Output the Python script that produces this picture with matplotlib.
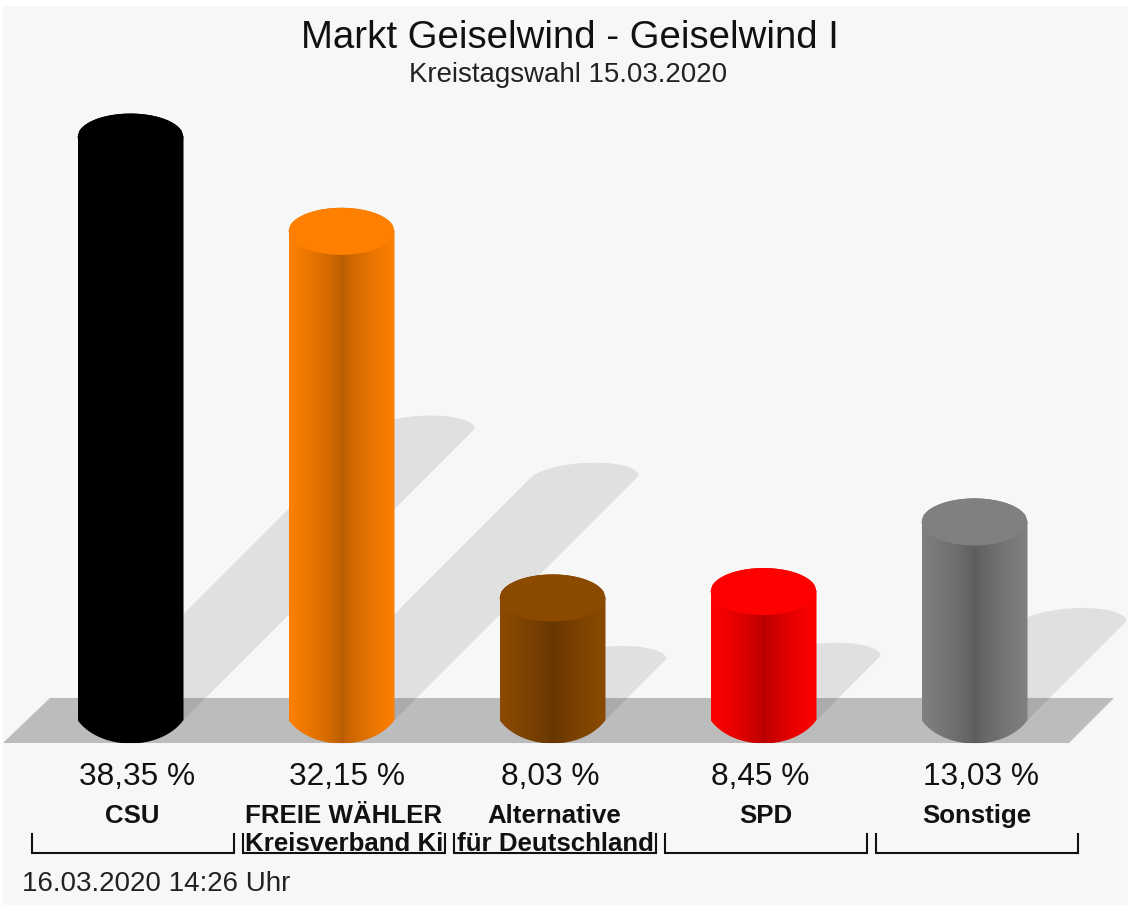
#!/usr/bin/env python
# -*- coding: utf-8 -*-
import matplotlib
matplotlib.use('Agg')
import matplotlib.pyplot as plt
import numpy as np
from matplotlib.patches import PathPatch, Polygon, Rectangle
from matplotlib.path import Path

plt.rcParams['font.family'] = ['Liberation Sans', 'DejaVu Sans']

TITLE = 'Markt Geiselwind - Geiselwind I'
SUBTITLE = 'Kreistagswahl 15.03.2020'
STAMP = '16.03.2020 14:26 Uhr'

parties = ['CSU', 'FREIE WÄHLER', 'Alternative', 'SPD', 'Sonstige']
parties2 = ['', 'Kreisverband Ki', 'für Deutschland', '', '']
values = [38.35, 32.15, 8.03, 8.45, 13.03]
value_labels = ['38,35 %', '32,15 %', '8,03 %', '8,45 %', '13,03 %']
colors = ['#000000', '#ff8000', '#8b4a00', '#ff0000', '#808080']

PX_PER_PCT = 15.2
BASE_Y = 720
BAR_W = 106
BAR_GAP = 211
FIRST_X = 130.5
TOP_H = 23.5


def top_arc(cx, cy, half_w, h, sign=-1, n=60, bulge=1.0):
    # von rechts nach links, sign=-1 nach oben
    x = np.linspace(half_w, -half_w, n)
    a = half_w * bulge
    y0 = np.sqrt(1 - (half_w / a) ** 2)
    y = h * (np.sqrt(1 - (x / a) ** 2) - y0) / (1 - y0)
    return cx + x, cy + sign * y


def draw_shadow(ax, cx, height):
    half = BAR_W / 2
    off = height * 0.5
    ax_, ay_ = top_arc(cx + off, BASE_Y - off, half, 13, bulge=1.03)
    # Kuppel leicht nach rechts geneigt
    ax_ = ax_ + (BASE_Y - off - ay_) * 0.7
    bx, by = top_arc(cx, BASE_Y, half, TOP_H, sign=1, bulge=1.13)
    pts = np.vstack([np.column_stack([ax_, ay_]), np.column_stack([bx[::-1], by[::-1]])])
    ax.add_patch(Polygon(pts, closed=True, fc='black', ec='none', alpha=0.09, zorder=2))


def draw_bar(ax, cx, height, color):
    half = BAR_W / 2
    top_y = BASE_Y - height
    tx, ty = top_arc(cx, top_y, half, TOP_H)
    bx, by = top_arc(cx, BASE_Y, half, TOP_H, sign=1, bulge=1.13)
    body = np.vstack([np.column_stack([tx, ty]), np.column_stack([bx[::-1], by[::-1]])])
    body = np.vstack([body, body[0]])
    patch = PathPatch(Path(body), fc='none', ec='none', zorder=3)
    ax.add_patch(patch)

    # Zylinder: Verlauf zur Mitte dunkler
    rgb = np.array(matplotlib.colors.to_rgb(color))
    t = np.abs(np.linspace(-1, 1, BAR_W * 2))
    shade = 0.72 + 0.28 * t ** 0.7
    img = (shade[None, :, None] * rgb[None, None, :])
    im = ax.imshow(img, extent=(cx - half, cx + half, BASE_Y + TOP_H, top_y - TOP_H),
                   aspect='auto', zorder=3, interpolation='bilinear')
    im.set_clip_path(patch)

    # Deckel
    ux, uy = top_arc(cx, top_y, half, TOP_H, sign=1)
    lid = np.vstack([np.column_stack([tx, ty]), np.column_stack([ux[::-1], uy[::-1]])])
    ax.add_patch(Polygon(lid, closed=True, fc=color, ec='none', zorder=4))


def main():
    fig = plt.figure(figsize=(11.31, 9.11), dpi=100, facecolor='white')
    ax = fig.add_axes([0, 0, 1, 1])
    ax.set_axis_off()

    ax.add_patch(Rectangle((3, 6), 1125, 899, fc='#f7f7f7', ec='none', zorder=0))
    ax.add_patch(Polygon([(3, 743), (50, 698), (1114, 698), (1069, 743)], closed=True,
                         fc='#bcbcbc', ec='none', zorder=1))

    xs = [FIRST_X + BAR_GAP * i for i in range(len(values))]
    heights = [v * PX_PER_PCT for v in values]

    for cx, h in zip(xs, heights):
        draw_shadow(ax, cx, h)
    for cx, h, c in zip(xs, heights, colors):
        draw_bar(ax, cx, h, c)

    ax.set_xlim(0, 1131)
    ax.set_ylim(911, 0)

    ax.text(570, 38, TITLE, ha='center', va='center', fontsize=27.6, color='#111111')
    ax.text(568, 74.5, SUBTITLE, ha='center', va='center', fontsize=19.9, color='#222222')

    label_x = [137, 347, 550, 760, 981]
    for i, cx in enumerate(xs):
        ax.text(label_x[i], 777, value_labels[i], ha='center', va='center', fontsize=22.8, color='#111111')
        ax.text(cx + 2, 816, parties[i], ha='center', va='center', fontsize=18.6,
                fontweight='bold', color='#111111')
        if parties2[i]:
            ax.text(cx + 2.5, 844, parties2[i], ha='center', va='center', fontsize=18.6,
                    fontweight='bold', color='#111111')
        left = cx - 99
        right = cx + 103
        ax.plot([left, left, right, right], [834, 853, 853, 834], color='#111111', lw=1.5,
                solid_joinstyle='miter', zorder=5)

    ax.text(22, 884, STAMP, ha='left', va='center', fontsize=20, color='#222222')

    fig.savefig('out.png', dpi=100, facecolor='white')
    plt.close(fig)


if __name__ == '__main__':
    main()
